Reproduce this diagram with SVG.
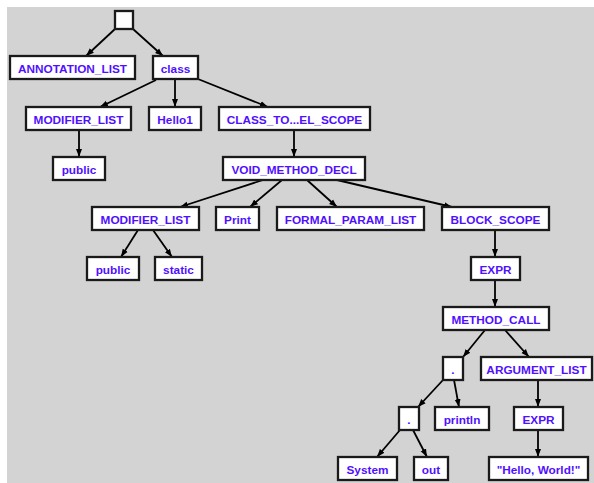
<svg xmlns="http://www.w3.org/2000/svg" width="594" height="483" viewBox="0 0 594 483">
<defs>
<marker id="arr" markerUnits="userSpaceOnUse" markerWidth="8" markerHeight="8" viewBox="0 0 8 8" refX="8" refY="4" orient="auto">
<path d="M0,1 L8,4 L0,7 Z" fill="#000"/>
</marker>
<style>
.n rect{fill:#fff;stroke:#1a1a1a;stroke-width:2.3}
.n text{font-family:"Liberation Sans",Arial,Helvetica,sans-serif;font-weight:bold;font-size:11.8px;fill:#5010ff;text-anchor:middle}
#edges line{stroke:#000;stroke-width:1.8;marker-end:url(#arr)}
</style>
</defs>
<rect x="0" y="0" width="594" height="483" fill="#fff"/>
<rect x="7" y="7" width="587" height="476" fill="#d3d3d3"/>
<g id="edges">
<line x1="115" y1="29" x2="86" y2="56"/>
<line x1="133" y1="29" x2="163" y2="56"/>
<line x1="156" y1="80" x2="100" y2="107"/>
<line x1="175" y1="80" x2="175" y2="107"/>
<line x1="198" y1="79" x2="268" y2="107"/>
<line x1="79" y1="130" x2="79" y2="157"/>
<line x1="294" y1="130" x2="294" y2="157"/>
<line x1="263" y1="180" x2="180" y2="207"/>
<line x1="282" y1="180" x2="250" y2="207"/>
<line x1="307" y1="180" x2="337" y2="207"/>
<line x1="337" y1="180" x2="452" y2="207"/>
<line x1="138" y1="230" x2="121" y2="257"/>
<line x1="153" y1="230" x2="172" y2="257"/>
<line x1="495" y1="230" x2="495" y2="257"/>
<line x1="495" y1="280" x2="495" y2="307"/>
<line x1="485" y1="330" x2="463" y2="357"/>
<line x1="505" y1="330" x2="529" y2="357"/>
<line x1="443" y1="380" x2="418" y2="407"/>
<line x1="454" y1="380" x2="459" y2="407"/>
<line x1="400" y1="430" x2="377" y2="457"/>
<line x1="413" y1="430" x2="427" y2="457"/>
<line x1="538" y1="380" x2="538" y2="407"/>
<line x1="538" y1="430" x2="538" y2="457"/>
</g>
<g id="root" class="n"><rect x="115" y="11" width="18" height="18"/></g>
<g id="annotation_list" class="n"><rect x="10" y="56" width="125" height="23"/><text x="72.5" y="72.5">ANNOTATION_LIST</text></g>
<g id="class" class="n"><rect x="153" y="56" width="45" height="23"/><text x="175.5" y="72.5">class</text></g>
<g id="modifier_list1" class="n"><rect x="26" y="107" width="105" height="23"/><text x="78.5" y="123.5">MODIFIER_LIST</text></g>
<g id="hello1" class="n"><rect x="149" y="107" width="52" height="23"/><text x="175" y="123.5">Hello1</text></g>
<g id="class_scope" class="n"><rect x="219" y="107" width="151" height="23"/><text x="294.5" y="123.5">CLASS_TO...EL_SCOPE</text></g>
<g id="public1" class="n"><rect x="53" y="157" width="52" height="23"/><text x="79" y="173.5">public</text></g>
<g id="void_method_decl" class="n"><rect x="223" y="157" width="142" height="23"/><text x="294" y="173.5">VOID_METHOD_DECL</text></g>
<g id="modifier_list2" class="n"><rect x="92" y="207" width="107" height="23"/><text x="145.5" y="223.5">MODIFIER_LIST</text></g>
<g id="print" class="n"><rect x="216" y="207" width="43" height="23"/><text x="237.5" y="223.5">Print</text></g>
<g id="formal_param_list" class="n"><rect x="277" y="207" width="147" height="23"/><text x="350.5" y="223.5">FORMAL_PARAM_LIST</text></g>
<g id="block_scope" class="n"><rect x="442" y="207" width="107" height="23"/><text x="495.5" y="223.5">BLOCK_SCOPE</text></g>
<g id="public2" class="n"><rect x="87" y="257" width="52" height="23"/><text x="113" y="273.5">public</text></g>
<g id="static" class="n"><rect x="155" y="257" width="47" height="23"/><text x="178.5" y="273.5">static</text></g>
<g id="expr1" class="n"><rect x="471" y="257" width="49" height="23"/><text x="495.5" y="273.5">EXPR</text></g>
<g id="method_call" class="n"><rect x="443" y="307" width="106" height="23"/><text x="496" y="323.5">METHOD_CALL</text></g>
<g id="dot1" class="n"><rect x="443" y="357" width="20" height="23"/><text x="453" y="373.5">.</text></g>
<g id="argument_list" class="n"><rect x="481" y="357" width="111" height="23"/><text x="536.5" y="373.5">ARGUMENT_LIST</text></g>
<g id="dot2" class="n"><rect x="399" y="407" width="20" height="23"/><text x="409" y="423.5">.</text></g>
<g id="println" class="n"><rect x="435" y="407" width="54" height="23"/><text x="462" y="423.5">println</text></g>
<g id="expr2" class="n"><rect x="514" y="407" width="49" height="23"/><text x="538.5" y="423.5">EXPR</text></g>
<g id="system" class="n"><rect x="338" y="457" width="59" height="23"/><text x="367.5" y="473.5">System</text></g>
<g id="out" class="n"><rect x="414" y="457" width="34" height="23"/><text x="431" y="473.5">out</text></g>
<g id="hello_world" class="n"><rect x="489" y="457" width="99" height="23"/><text x="538.5" y="473.5">"Hello, World!"</text></g>
</svg>
